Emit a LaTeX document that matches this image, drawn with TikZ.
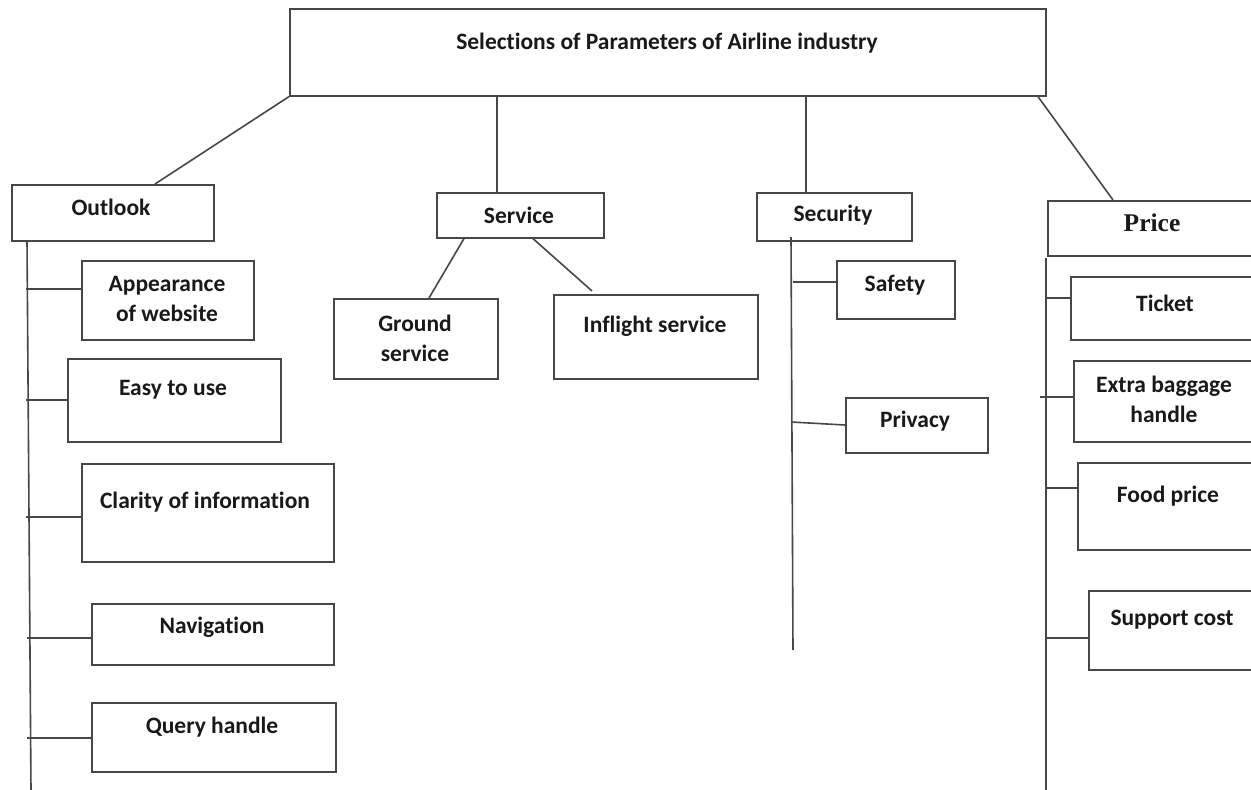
\documentclass[tikz,border=0pt]{standalone}
\usepackage{fontspec}
\setmainfont{Carlito}[Ligatures={NoCommon}]
\newfontfamily\serifb{Liberation Serif}
\begin{document}
\begin{tikzpicture}[x=1pt,y=-1pt,
  box/.style={draw=black!72, line width=1.6pt, inner sep=0pt, anchor=north west},
  txt/.style={font=\bfseries\fontsize{23.5}{30}\selectfont, align=center, inner sep=0pt, text=black!90},
  conn/.style={draw=black!72, line width=1.6pt}]
\useasboundingbox (0,0) rectangle (1251,790);
\fill[white] (0,0) rectangle (1251,790);
\begin{scope}
\clip (0,0) rectangle (1251,790);
% boxes
\node[box, minimum width=756pt, minimum height=87pt] (title) at (289,8) {};
\node[box, minimum width=202pt, minimum height=56pt] (outlook) at (11,184) {};
\node[box, minimum width=167pt, minimum height=45pt] (service) at (436,192) {};
\node[box, minimum width=155pt, minimum height=48pt] (security) at (756,192) {};
\node[box, minimum width=220pt, minimum height=55pt] (price) at (1047,200) {};
\node[box, minimum width=172pt, minimum height=79pt] (appear) at (81,260) {};
\node[box, minimum width=213pt, minimum height=83pt] (easy) at (67,358) {};
\node[box, minimum width=252pt, minimum height=98pt] (clarity) at (81,463) {};
\node[box, minimum width=242pt, minimum height=61pt] (navig) at (91,603) {};
\node[box, minimum width=244pt, minimum height=69pt] (query) at (91,702) {};
\node[box, minimum width=164pt, minimum height=80pt] (ground) at (333,298) {};
\node[box, minimum width=204pt, minimum height=84pt] (inflight) at (553,294) {};
\node[box, minimum width=118pt, minimum height=58pt] (safety) at (836,260) {};
\node[box, minimum width=142pt, minimum height=55pt] (privacy) at (845,397) {};
\node[box, minimum width=200pt, minimum height=63pt] (ticket) at (1070,276) {};
\node[box, minimum width=200pt, minimum height=81pt] (baggage) at (1073,360) {};
\node[box, minimum width=200pt, minimum height=87pt] (food) at (1077,462) {};
\node[box, minimum width=200pt, minimum height=79pt] (support) at (1088,590) {};
% texts
\node[txt] (t-title) at (667,43) {Selections of Parameters of Airline industry};
\node[txt] (t-outlook) at (111,207) {Outlook};
\node[txt] (t-service) at (519,215) {Service};
\node[txt] (t-security) at (833,215) {Security};
\node[txt, font=\serifb\bfseries\fontsize{25.5}{28}\selectfont] (t-price) at (1152,223) {Price};
\node[txt] (t-appear) at (167,299) {Appearance\\of website};
\node[txt] (t-easy) at (173,390) {Easy to use};
\node[txt] (t-clarity) at (205,502) {Clarity of information};
\node[txt] (t-navig) at (212,627) {Navigation};
\node[txt] (t-query) at (212,727) {Query handle};
\node[txt] (t-ground) at (415,338) {Ground\\service};
\node[txt] (t-inflight) at (655,326) {Inflight service};
\node[txt] (t-safety) at (895,285) {Safety};
\node[txt] (t-privacy) at (915,421) {Privacy};
\node[txt] (t-ticket) at (1165,303) {Ticket};
\node[txt] (t-baggage) at (1164,399) {Extra baggage\\handle};
\node[txt] (t-food) at (1168,496) {Food price};
\node[txt] (t-support) at (1172,620) {Support cost};
% top connectors
\draw[conn] (title.south west) -- ([xshift=144pt]outlook.north west);
\draw[conn] ([xshift=208pt]title.south west) -- ([xshift=61pt]service.north west);
\draw[conn] ([xshift=517pt]title.south west) -- ([xshift=50pt]security.north west);
\draw[conn] ([xshift=749pt]title.south west) -- ([xshift=66pt]price.north west);
% outlook spine
\coordinate (os1) at (27,240);
\coordinate (os2) at (31,790);
\draw[conn] (os1) -- (os2);
\draw[conn] ([yshift=-29pt]appear.north west) -- ++(-55,0);
\draw[conn] ([yshift=-42pt]easy.north west) -- ++(-41,0);
\draw[conn] ([yshift=-54pt]clarity.north west) -- ++(-55,0);
\draw[conn] ([yshift=-35pt]navig.north west) -- ++(-64,0);
\draw[conn] ([yshift=-36pt]query.north west) -- ++(-64,0);
% service
\draw[conn] ([xshift=28pt]service.south west) -- ([xshift=96pt]ground.north west);
\draw[conn] ([xshift=97pt]service.south west) -- ([xshift=39pt,yshift=3pt]inflight.north west);
% security spine
\coordinate (ss1) at (791,237);
\coordinate (ss2) at (793,650);
\draw[conn] (ss1) -- (ss2);
\draw[conn] ([yshift=-22pt]safety.north west) -- ++(-43,0);
\draw[conn] ([yshift=-28pt]privacy.north west) -- ++(-54,-3);
% price spine
\coordinate (ps1) at (1046,258);
\coordinate (ps2) at (1046,790);
\draw[conn] (ps1) -- (ps2);
\draw[conn] ([yshift=-22pt]ticket.north west) -- ++(-24,0);
\draw[conn] ([yshift=-37pt]baggage.north west) -- ++(-33,0);
\draw[conn] ([yshift=-26pt]food.north west) -- ++(-31,0);
\draw[conn] ([yshift=-48pt]support.north west) -- ++(-42,0);
\end{scope}
\end{tikzpicture}
\end{document}
